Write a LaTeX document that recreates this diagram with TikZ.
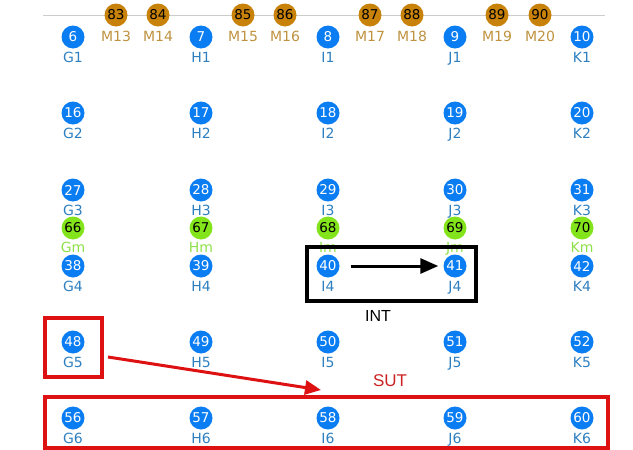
\documentclass[tikz,border=0pt]{standalone}
\usepackage{fontspec}
\setmainfont{DejaVu Sans}
\newfontfamily\arialfont{Liberation Sans}
\usetikzlibrary{arrows.meta}
\definecolor{bluec}{HTML}{0B7DF2}
\definecolor{bluel}{HTML}{2E7FC0}
\definecolor{greenc}{HTML}{84E41C}
\definecolor{greenl}{HTML}{8EE04A}
\definecolor{orangec}{HTML}{C8820A}
\definecolor{orangel}{HTML}{BF9240}
\definecolor{redc}{HTML}{DD1111}
\definecolor{sutred}{HTML}{CC2222}
\tikzset{
  dotbase/.style={circle,inner sep=0pt,minimum size=23pt,font=\fontsize{13.5}{14}\selectfont},
  bluedot/.style={dotbase,fill=bluec,text=white},
  greendot/.style={dotbase,fill=greenc,text=black},
  orangedot/.style={dotbase,fill=orangec,text=black},
  labbase/.style={inner sep=0pt,anchor=base,font=\fontsize{14}{15}\selectfont},
  bluelab/.style={labbase,text=bluel},
  greenlab/.style={labbase,text=greenl},
  orangelab/.style={labbase,text=orangel},
  blackbox/.style={draw=black,line width=3.2pt},
  redbox/.style={draw=redc,line width=3.2pt},
}
\begin{document}
\begin{tikzpicture}[x=1pt,y=-1pt]
\useasboundingbox (0,0) rectangle (633,450);
% top line
\coordinate (lineL) at (43,15);
\coordinate (lineR) at (605,15);
\draw[color=black!20,line width=1pt] (lineL) -- (lineR);
% orange dots
\foreach \n/\lab/\x in {83/M13/116,84/M14/158,85/M15/243,86/M16/285,87/M17/370,88/M18/412,89/M19/497,90/M20/540}{
  \node[orangedot] (o\n) at (\x,15) {\n};
  \node[orangelab] (ol\n) at (\x,41) {\lab};
}
% green dots
\foreach \n/\lab/\x in {66/Gm/73,67/Hm/201,68/Im/328,69/Jm/455,70/Km/582}{
  \node[greendot] (g\n) at (\x,228) {\n};
  \node[greenlab] (gl\n) at (\x,252.5) {\lab};
}
% blue dots
\foreach \n/\lab/\x/\y in {6/G1/73/37,7/H1/201/37,8/I1/328/37,9/J1/455/37,10/K1/582/37,
  16/G2/73/113,17/H2/201/113,18/I2/328/113,19/J2/455/113,20/K2/582/113,
  27/G3/73/190,28/H3/201/190,29/I3/328/190,30/J3/455/190,31/K3/582/190,
  38/G4/73/266,39/H4/201/266,40/I4/328/266,41/J4/455/266,42/K4/582/266,
  48/G5/73/342,49/H5/201/342,50/I5/328/342,51/J5/455/342,52/K5/582/342,
  56/G6/73/418,57/H6/201/418,58/I6/328/418,59/J6/455/418,60/K6/582/418}{
  \node[bluedot] (b\n) at (\x,\y) {\n};
  \node[bluelab] (bl\n) at (\x,\y+25) {\lab};
}
% INT box
\node[blackbox,minimum width=169pt,minimum height=54pt,inner sep=0pt] (intbox) at (391.5,274) {};
\node[font=\arialfont\fontsize{16}{17}\selectfont,inner sep=0pt] (intlab) at (378,316) {INT};
\draw[line width=3pt,-{Triangle[length=18pt,width=15pt]},shorten <=11pt,shorten >=5pt] (b40) -- (b41);
% SUT
\node[redbox,minimum width=57pt,minimum height=59pt,inner sep=0pt] (g5box) at (73.5,347.5) {};
\node[redbox,minimum width=563pt,minimum height=51pt,inner sep=0pt] (sutbox) at (326.5,422.5) {};
\node[text=sutred,font=\arialfont\fontsize{17}{18}\selectfont,inner sep=0pt] (sutlab) at (390,381) {SUT};
\coordinate (redstart) at (108,357);
\coordinate (redend) at (321,390);
\draw[redc,line width=3pt,-{Triangle[length=16pt,width=14pt]}] (redstart) -- (redend);
\end{tikzpicture}
\end{document}
